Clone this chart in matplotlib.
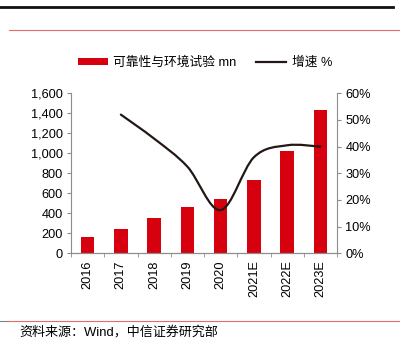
import matplotlib.pyplot as plt
import matplotlib.ticker as mticker
from matplotlib.path import Path
from matplotlib.patches import PathPatch
from matplotlib.lines import Line2D
import numpy as np

plt.rcParams['font.family'] = ['Liberation Sans', 'Noto Sans CJK SC', 'DejaVu Sans']
plt.rcParams['font.size'] = 9.2

years = ['2016', '2017', '2018', '2019', '2020', '2021E', '2022E', '2023E']
revenue = [160, 242, 353, 466, 540, 733, 1025, 1433]   # 可靠性与环境试验 mn
growth = [None, 0.52, 0.43, 0.325, 0.162, 0.36, 0.405, 0.40]  # 增速

RED = '#D7000F'
DARK = '#231815'
GREY = '#8c8c8c'


def smooth_path(xs, ys):
    # Catmull-Rom segments as cubic Bezier curves, like Excel's smoothed line
    pts = np.column_stack([xs, ys])
    verts = [pts[0]]
    codes = [Path.MOVETO]
    n = len(pts)
    for i in range(n - 1):
        p0 = pts[max(i - 1, 0)]
        p1 = pts[i]
        p2 = pts[i + 1]
        p3 = pts[min(i + 2, n - 1)]
        c1 = p1 + (p2 - p0) / 6
        c2 = p2 - (p3 - p1) / 6
        verts += [c1, c2, p2]
        codes += [Path.CURVE4] * 3
    return Path(verts, codes)


fig = plt.figure(figsize=(4, 3.49), dpi=100)
ax = fig.add_axes([0.1775, 0.2742, 0.665, 0.4585])
x = np.arange(len(years))
bars = ax.bar(x, revenue, width=0.4, color=RED, zorder=2, label='可靠性与环境试验 mn')
ax.set_xlim(-0.5, len(years) - 0.5)
ax.set_ylim(0, 1600)
ax.yaxis.set_major_locator(mticker.MultipleLocator(200))
ax.yaxis.set_major_formatter(mticker.StrMethodFormatter('{x:,.0f}'))

ax.set_xticks(x)
ax.set_xticklabels(years, rotation=90)
ax.set_xticks(np.arange(-0.5, len(years)), minor=True)
ax.tick_params(axis='x', which='major', length=0, pad=5)
ax.tick_params(axis='x', which='minor', length=3, color=GREY, direction='out')
ax.tick_params(axis='y', length=3, color=GREY, pad=3)

ax2 = ax.twinx()
ax2.set_ylim(0, 0.6)
ax2.yaxis.set_major_locator(mticker.MultipleLocator(0.1))
ax2.yaxis.set_major_formatter(mticker.PercentFormatter(1.0, decimals=0))
ax2.tick_params(axis='y', length=3, color=GREY, pad=3)

gx = [i for i, g in zip(x, growth) if g is not None]
gy = [g for g in growth if g is not None]
ax2.add_patch(PathPatch(smooth_path(gx, gy), facecolor='none', edgecolor=DARK,
                        lw=1.6, zorder=3, capstyle='round'))

for a in (ax, ax2):
    a.spines['top'].set_visible(False)
    for s in ('left', 'right', 'bottom'):
        a.spines[s].set_color(GREY)
        a.spines[s].set_linewidth(0.8)
ax.spines['right'].set_visible(False)
ax2.spines['left'].set_visible(False)

handles = [bars, Line2D([], [], color=DARK, lw=1.6)]
fig.legend(handles, ['可靠性与环境试验 mn', '增速 %'], loc='center',
           bbox_to_anchor=(0.512, 1 - 63 / 349), ncol=2, frameon=False,
           handlelength=2.4, handleheight=0.5, columnspacing=1.5,
           handletextpad=0.4, fontsize=9.2)

# header and footer rules
fig.add_artist(Line2D([0, 393 / 400], [1 - 6.5 / 349] * 2, color='#111111', lw=2))
fig.add_artist(Line2D([9 / 400, 1], [1 - 30 / 349] * 2, color='#E36C6C', lw=0.8))
fig.add_artist(Line2D([0, 9 / 400], [1 - 321 / 349] * 2, color='#808080', lw=0.8))
fig.add_artist(Line2D([9 / 400, 1], [1 - 321 / 349] * 2, color='#E36C6C', lw=0.8))
fig.text(19 / 400, 1 - 332 / 349, '资料来源：Wind，中信证券研究部', fontsize=9.4,
         va='center', ha='left')

fig.savefig('out.png', dpi=100)
